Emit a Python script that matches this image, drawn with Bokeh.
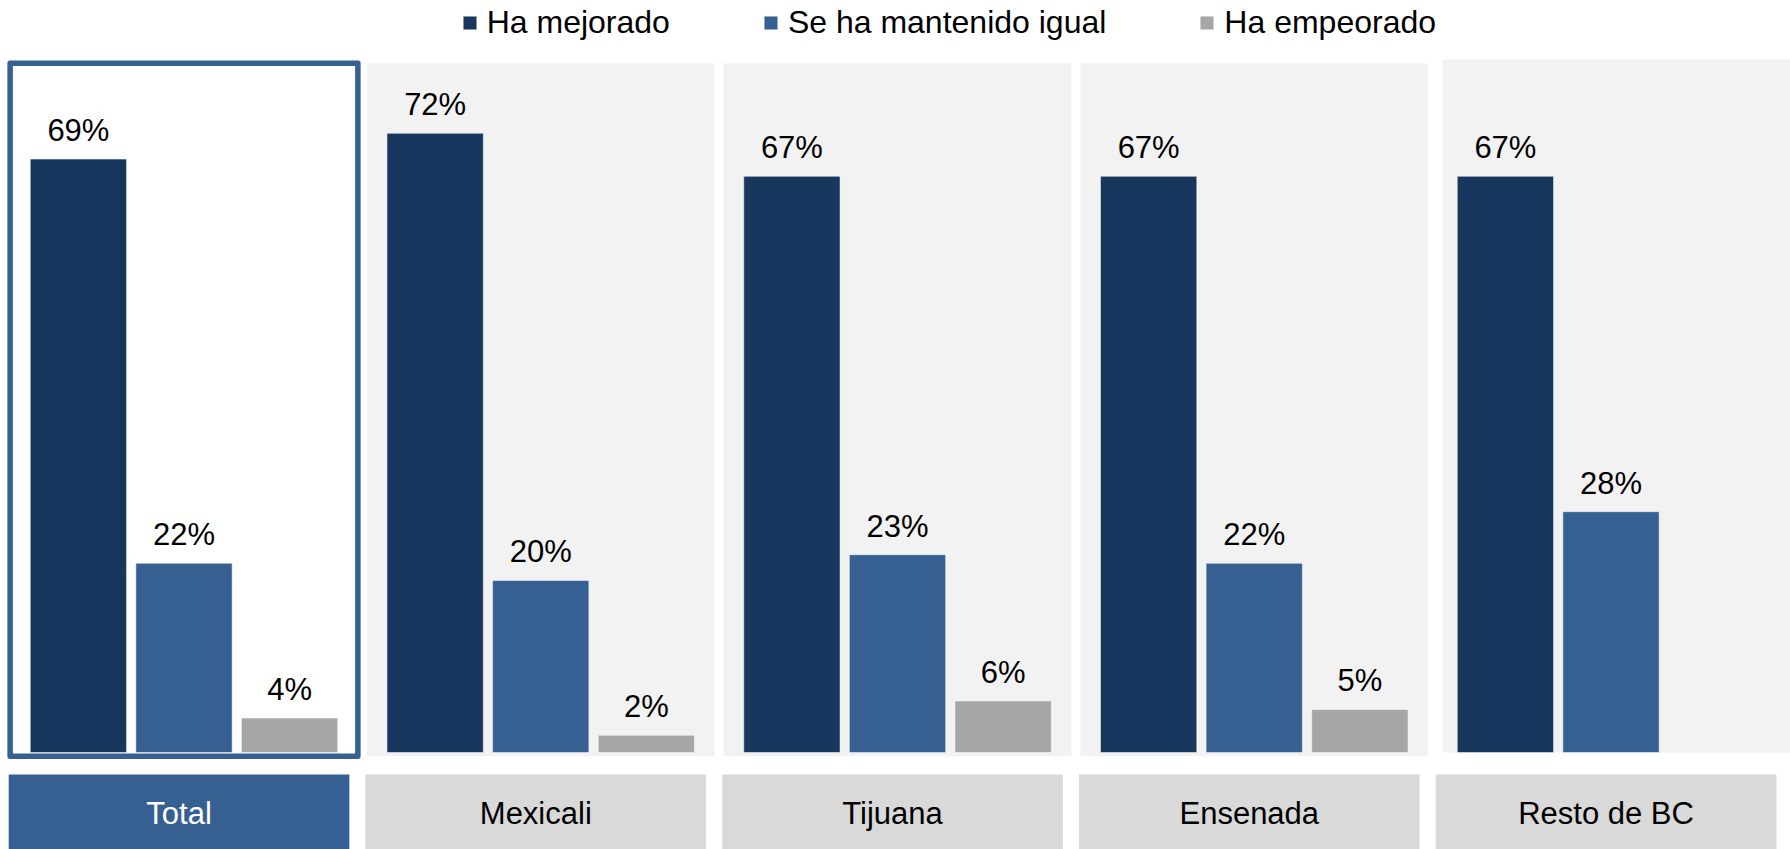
from bokeh.plotting import figure
from bokeh.models import ColumnDataSource, FactorRange, Range1d
from bokeh.core.properties import value
from bokeh.embed import file_html
from bokeh.resources import INLINE

# ---------------- data ----------------
regions = ["Total", "Mexicali", "Tijuana", "Ensenada", "Resto de BC"]
series = ["Ha mejorado", "Se ha mantenido igual", "Ha empeorado"]
ha_mejorado = [69, 72, 67, 67, 67]
se_ha_mantenido = [22, 20, 23, 22, 28]
ha_empeorado = [4, 2, 6, 5, None]
highlight_region = "Total"

# ---------------- style ----------------
series_colors = ["#17375E", "#376092", "#A6A6A6"]
FONT = "Liberation Sans"
panel_gray = "#F2F2F2"
box_gray = "#D9D9D9"
accent = "#376092"

W, H = 1790, 849
p = figure(
    width=W, height=H,
    x_range=FactorRange(*[(r, s) for r in regions for s in series],
                        group_padding=0.3783, factor_padding=0.0,
                        range_padding=0.0242),
    y_range=Range1d(-11.28, 87.44),
    output_backend="svg", toolbar_location=None,
    x_axis_location=None, y_axis_location=None,
    min_border=0, min_border_left=4, outline_line_color=None,
    background_fill_color="white", border_fill_color="white",
)
p.xgrid.visible = False
p.ygrid.visible = False

PANEL_W = 3.293
PANEL_TOP = 80.15
PANEL_BOTTOM = -0.45

# panels
last_region = regions[-1]
middle = [r for r in regions if r not in (highlight_region, last_region)]
p.vbar(x=middle, width=PANEL_W, top=PANEL_TOP, bottom=PANEL_BOTTOM,
       fill_color=panel_gray, line_color=None)
# the last panel runs off the right edge
p.vbar(x=[(last_region, 0.094)], width=3.378, top=80.58, bottom=0.0,
       fill_color=panel_gray, line_color=None)
p.vbar(x=[highlight_region], width=PANEL_W, top=PANEL_TOP, bottom=PANEL_BOTTOM,
       fill_color="white", line_color=accent, line_width=5.5, line_join="round")

# bars and value labels
all_values = [ha_mejorado, se_ha_mantenido, ha_empeorado]
for s, vals, col in zip(series, all_values, series_colors):
    xs = [(r, s) for r, v in zip(regions, vals) if v is not None]
    ys = [v for v in vals if v is not None]
    src = ColumnDataSource(dict(x=xs, top=ys, label=[f"{v}%" for v in ys]))
    p.vbar(x="x", top="top", bottom=0, width=0.912, source=src,
           fill_color=col, line_color="white", line_alpha=0.5, line_width=1,
           legend_label=s)
    p.text(x="x", y="top", text="label", source=src,
           text_font=value(FONT), text_font_size="31px", text_color="black",
           text_align="center", text_baseline="alphabetic", y_offset=-28.5)

# category boxes below
BOX_W = 3.226
box_x = [(r, -0.047) for r in regions]
box_fill = [accent if r == highlight_region else box_gray for r in regions]
box_text = ["white" if r == highlight_region else "black" for r in regions]
bsrc = ColumnDataSource(dict(x=box_x, name=regions, fill=box_fill, tcol=box_text))
p.vbar(x="x", width=BOX_W, top=-2.56, bottom=-11.6, source=bsrc,
       fill_color="fill", line_color=None)
p.text(x="x", y=-7.09, text="name", source=bsrc, text_color="tcol",
       text_font=value(FONT), text_font_size="31px",
       text_align="center", text_baseline="middle")

# legend
lg = p.legend[0]
lg.orientation = "horizontal"
lg.location = (456.7, 808)
lg.label_text_font = FONT
lg.label_text_font_size = "32px"
lg.label_text_color = "black"
lg.glyph_width = 17
lg.glyph_height = 17
lg.label_standoff = 9
lg.spacing = 92
lg.padding = 0
lg.margin = 0
lg.border_line_color = None
lg.background_fill_alpha = 0

open("out.html", "w").write(file_html(p, INLINE))
